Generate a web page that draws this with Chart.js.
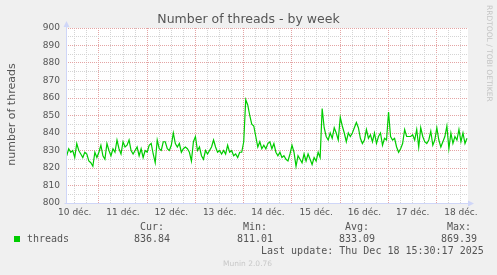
<!DOCTYPE html>
<html>
<head>
<meta charset="utf-8">
<script src="https://cdn.jsdelivr.net/npm/chart.js@4/dist/chart.umd.min.js"></script>
<style>
  html, body { margin: 0; padding: 0; background: #f0f0f0; }
  #wrap { position: relative; width: 497px; height: 275px; overflow: hidden; background: #f0f0f0; }
  #wrap canvas { position: absolute; left: 0; top: 0; }
  .t { position: absolute; white-space: pre; color: #555; }
  .mono { font: 10px "DejaVu Sans Mono", monospace; line-height: 12px; }
</style>
</head>
<body>
<div id="wrap">
  <canvas id="myChart" width="497" height="275"></canvas>
  <div class="t" style="left:0;width:497px;top:11px;text-align:center;font:12.5px 'DejaVu Sans';line-height:15px;">Number of threads - by week</div>
  <div class="t" style="left:-42px;top:108px;width:106px;text-align:center;font:11px 'DejaVu Sans';line-height:13px;transform:rotate(-90deg);">number of threads</div>
  <div class="t" style="left:485px;top:5px;writing-mode:vertical-rl;font:7.5px 'DejaVu Sans';color:#c4c4c4;">RRDTOOL / TOBI OETIKER</div>

  <div style="position:absolute;left:14px;top:236px;width:6px;height:6px;background:#00cc00;"></div>
  <div class="t mono" style="left:27px;top:233px;">threads</div>
  <div class="t mono" style="left:140px;top:221px;">Cur:</div>
  <div class="t mono" style="left:134px;top:233px;">836.84</div>
  <div class="t mono" style="left:243px;top:221px;">Min:</div>
  <div class="t mono" style="left:237px;top:233px;">811.01</div>
  <div class="t mono" style="left:345px;top:221px;">Avg:</div>
  <div class="t mono" style="left:339px;top:233px;">833.09</div>
  <div class="t mono" style="left:447px;top:221px;">Max:</div>
  <div class="t mono" style="left:441px;top:233px;">869.39</div>
  <div class="t mono" style="left:261px;top:245px;">Last update: Thu Dec 18 15:30:17 2025</div>
  <div class="t" style="left:223px;top:259px;font:7.5px 'DejaVu Sans';color:#c8c8c8;">Munin 2.0.76</div>
</div>
<script>
// heures depuis le 10 déc. 00:00, un point par heure
const startHour = 8;
const threads10 = [827, 831, 829, 830, 826, 834, 830, 828, 826, 829, 828, 824, 823, 821, 829, 826];
const threads11 = [829, 833, 827, 825, 834, 830, 827, 831, 829, 836, 831, 828, 835, 832, 833, 836, 830, 828, 830, 832, 827, 831, 826, 830];
const threads12 = [829, 833, 834, 828, 823, 836, 831, 830, 835, 835, 831, 830, 833, 840, 834, 832, 834, 829, 831, 832, 831, 829, 824, 835];
const threads13 = [838, 830, 832, 827, 825, 830, 828, 830, 832, 836, 832, 829, 830, 828, 830, 828, 833, 829, 830, 827, 828, 826, 829, 829];
const threads14 = [835, 859, 856, 850, 845, 844, 838, 832, 835, 831, 833, 831, 834, 835, 831, 834, 829, 827, 829, 826, 827, 825, 824, 828];
const threads15 = [833, 829, 821, 827, 825, 823, 828, 824, 828, 825, 822, 826, 824, 829, 826, 854, 843, 838, 836, 840, 837, 843, 840, 836];
const threads16 = [849, 844, 840, 835, 840, 838, 840, 843, 846, 843, 837, 834, 836, 842, 837, 839, 835, 840, 834, 838, 840, 833, 837, 836];
const threads17 = [852, 838, 836, 837, 832, 829, 831, 834, 842, 838, 838, 838, 839, 836, 842, 832, 843, 838, 835, 834, 836, 841, 833, 836];
const threads18 = [843, 836, 832, 835, 838, 844, 831, 840, 834, 838, 836, 842, 835, 840, 834, 837];
const dayLabels = ['10 déc.', '11 déc.', '12 déc.', '13 déc.', '14 déc.', '15 déc.', '16 déc.', '17 déc.', '18 déc.'];
const yLabels = [800, 810, 820, 830, 840, 850, 860, 870, 880, 890, 900];
const xMin = 7.65, xMax = 207.5;

document.addEventListener("DOMContentLoaded", function() {
    const values = [].concat(threads10, threads11, threads12, threads13, threads14,
                             threads15, threads16, threads17, threads18);
    const points = values.map((v, i) => ({ x: startHour + i, y: v }));

    const axisColor = '#cfd6f8';
    const munin = {
        id: 'munin',
        beforeDraw(chart) {
            const a = chart.chartArea, ctx = chart.ctx;
            ctx.save();
            ctx.fillStyle = '#ffffff';
            ctx.fillRect(a.left, a.top, a.right - a.left, a.bottom - a.top);
            ctx.restore();
        },
        afterDatasetsDraw(chart) {
            const a = chart.chartArea, ctx = chart.ctx;
            const x0 = Math.round(a.left) + 0.5, y0 = Math.round(a.bottom) + 0.5;
            ctx.save();
            ctx.strokeStyle = axisColor;
            ctx.fillStyle = axisColor;
            ctx.lineWidth = 1;
            ctx.beginPath();
            ctx.moveTo(x0, y0); ctx.lineTo(x0, a.top - 3);
            ctx.moveTo(x0 - 2, y0); ctx.lineTo(a.right + 3, y0);
            ctx.stroke();
            // flèches
            ctx.beginPath();
            ctx.moveTo(x0, a.top - 7); ctx.lineTo(x0 - 3, a.top - 1); ctx.lineTo(x0 + 3, a.top - 1);
            ctx.closePath(); ctx.fill();
            ctx.beginPath();
            ctx.moveTo(a.right + 6, y0); ctx.lineTo(a.right, y0 - 3); ctx.lineTo(a.right, y0 + 3);
            ctx.closePath(); ctx.fill();
            ctx.restore();
        }
    };

    const ctx = document.getElementById('myChart').getContext('2d');
    const myChart = new Chart(ctx, {
        type: 'line',
        data: {
            datasets: [{
                label: 'threads',
                data: points,
                borderColor: '#00cc00',
                borderWidth: 1.2,
                pointRadius: 0,
                tension: 0,
                fill: false
            }]
        },
        options: {
            responsive: false,
            devicePixelRatio: 1,
            animation: false,
            layout: { padding: { left: 0, top: 28, right: 29, bottom: 52 } },
            plugins: { legend: { display: false }, tooltip: { enabled: false }, title: { display: false } },
            scales: {
                x: {
                    type: 'linear',
                    min: xMin,
                    max: xMax,
                    afterFit: s => { s.height = 20; },
                    afterBuildTicks: s => {
                        const t = [];
                        for (let h = 12; h <= xMax; h += 6) t.push({ value: h });
                        s.ticks = t;
                    },
                    ticks: {
                        autoSkip: false,
                        maxRotation: 0,
                        padding: 4,
                        color: '#555',
                        font: { family: 'DejaVu Sans', size: 9 },
                        callback: v => (v % 24 === 12 ? dayLabels[(v - 12) / 24] : '')
                    },
                    grid: {
                        drawTicks: false,
                        lineWidth: 1,
                        color: c => (c.tick && c.tick.value % 24 === 0 ? '#e4a4a4' : '#d4d4d4')
                    },
                    border: { display: false, dash: [1, 1] }
                },
                y: {
                    min: 800,
                    max: 900,
                    afterFit: s => { s.width = 66; },
                    ticks: {
                        stepSize: 5,
                        autoSkip: false,
                        padding: 6,
                        color: '#555',
                        font: { family: 'DejaVu Sans', size: 9 },
                        callback: v => (yLabels.includes(v) ? String(v) : '')
                    },
                    grid: {
                        drawTicks: false,
                        lineWidth: 1,
                        color: c => (c.tick && c.tick.value % 10 === 0 ? '#e4a4a4' : '#d4d4d4')
                    },
                    border: { display: false, dash: [1, 1] }
                }
            }
        },
        plugins: [munin]
    });
});
</script>
</body>
</html>
